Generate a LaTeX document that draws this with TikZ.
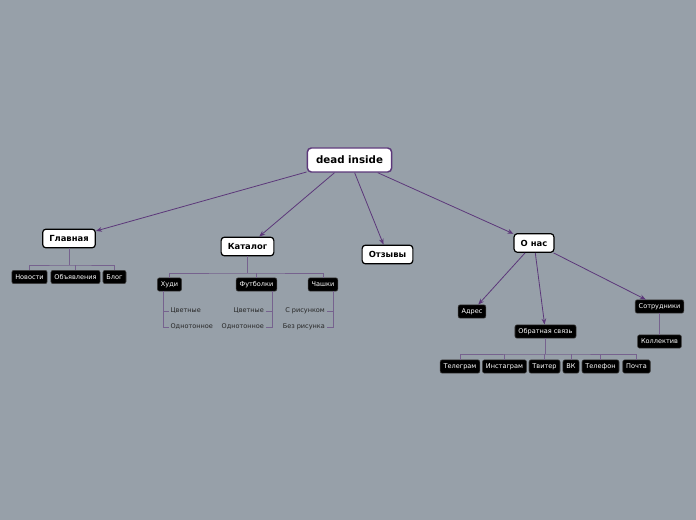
\documentclass[tikz,border=0pt]{standalone}
\usepackage{fontspec}
\setmainfont{DejaVu Sans}
\usetikzlibrary{arrows.meta}
\definecolor{bg}{RGB}{151,160,169}
\definecolor{arr}{RGB}{92,56,122}
\definecolor{tree}{RGB}{118,98,142}
\begin{document}
\begin{tikzpicture}[x=0.75pt,y=-0.75pt,
 rootbox/.style={draw=arr, line width=1.1pt, fill=white, rounded corners=3pt, font=\bfseries\fontsize{7.7}{9}\selectfont, minimum height=18pt, inner xsep=6.5pt},
 mainbox/.style={draw=black, line width=0.9pt, fill=white, rounded corners=2.5pt, font=\bfseries\fontsize{6.3}{8}\selectfont, minimum height=14pt, inner xsep=5pt},
 leafbox/.style={fill=black, draw=black!75, rounded corners=1.5pt, text=white, font=\fontsize{4.9}{6}\selectfont, minimum height=10pt, inner xsep=2.6pt, inner ysep=1pt},
 plain/.style={font=\fontsize{4.9}{6}\selectfont, text=black!85, inner sep=1pt},
 arrowline/.style={draw=arr, line width=0.6pt, -{Stealth[length=4.5pt,width=3.5pt]}},
 treeline/.style={draw=tree, line width=0.6pt}]
\fill[bg] (0,0) rectangle (696,520);
\useasboundingbox (0,0) rectangle (696,520);
% root and main
\node[rootbox] (root) at (349.5,160) {dead inside};
\node[mainbox] (gl) at (69,238.5) {Главная};
\node[mainbox] (kat) at (247.5,246.5) {Каталог};
\node[mainbox] (otz) at (387.5,254.5) {Отзывы};
\node[mainbox] (onas) at (534,243) {О нас};
% leaves
\node[leafbox] (nov) at (29.5,277) {Новости};
\node[leafbox] (obv) at (75.5,277) {Объявления};
\node[leafbox] (blog) at (114.5,277) {Блог};
\node[leafbox] (hud) at (169.5,284.5) {Худи};
\node[leafbox] (fut) at (256.5,284.5) {Футболки};
\node[leafbox] (cha) at (323,284.5) {Чашки};
\node[leafbox] (adr) at (472,311.5) {Адрес};
\node[leafbox] (obr) at (545.5,331.5) {Обратная связь};
\node[leafbox] (sotr) at (659.5,306.5) {Сотрудники};
\node[leafbox] (koll) at (659.5,341.5) {Коллектив};
\node[leafbox] (tel) at (460,366.5) {Телеграм};
\node[leafbox] (ins) at (504.5,366.5) {Инстаграм};
\node[leafbox] (tvi) at (544.5,366.5) {Твитер};
\node[leafbox] (vk) at (571,366.5) {ВК};
\node[leafbox] (tlf) at (600.5,366.5) {Телефон};
\node[leafbox] (poc) at (636.5,366.5) {Почта};
% plain texts
\node[plain, anchor=west] (h1) at (169,311) {Цветные};
\node[plain, anchor=west] (h2) at (169,327) {Однотонное};
\node[plain, anchor=east] (f1) at (265.5,311) {Цветные};
\node[plain, anchor=east] (f2) at (265.5,327) {Однотонное};
\node[plain, anchor=east] (c1) at (326.5,311) {С рисунком};
\node[plain, anchor=east] (c2) at (326.5,327) {Без рисунка};
% arrows
\draw[arrowline] (root) -- (gl);
\draw[arrowline] (root) -- (kat);
\draw[arrowline] (root) -- (otz);
\draw[arrowline] (root) -- (onas);
\draw[arrowline] (onas) -- (adr);
\draw[arrowline] (onas) -- (obr);
\draw[arrowline] (onas) -- (sotr);
% tree lines
\coordinate (gj) at (69,265);
\draw[treeline] (gl.south) -- (gj);
\draw[treeline] (nov.north) |- (gj) -| (blog.north);
\draw[treeline] (obv.north) -- (obv.north |- gj);
\coordinate (kj) at (247.5,273);
\draw[treeline] (kat.south) -- (kj);
\draw[treeline] (hud.north) |- (kj) -| (cha.north);
\draw[treeline] (fut.north) -- (fut.north |- kj);
\coordinate (oj) at (545.5,354);
\draw[treeline] (obr.south) -- (oj);
\draw[treeline] (tel.north) |- (oj) -| (poc.north);
\foreach \n in {ins,tvi,vk,tlf} \draw[treeline] (\n.north) -- (\n.north |- oj);
\draw[treeline] (sotr.south) -- (koll.north);
% sub-items
\coordinate (hv) at (163,0);
\draw[treeline] (hv |- hud.south) -- (hv |- h2.west) -- (h2.west);
\draw[treeline] (hv |- h1.west) -- (h1.west);
\coordinate (fv) at (272,0);
\draw[treeline] (fv |- fut.south) -- (fv |- f2.east) -- (f2.east);
\draw[treeline] (fv |- f1.east) -- (f1.east);
\coordinate (cv) at (333,0);
\draw[treeline] (cv |- cha.south) -- (cv |- c2.east) -- (c2.east);
\draw[treeline] (cv |- c1.east) -- (c1.east);
\end{tikzpicture}
\end{document}
